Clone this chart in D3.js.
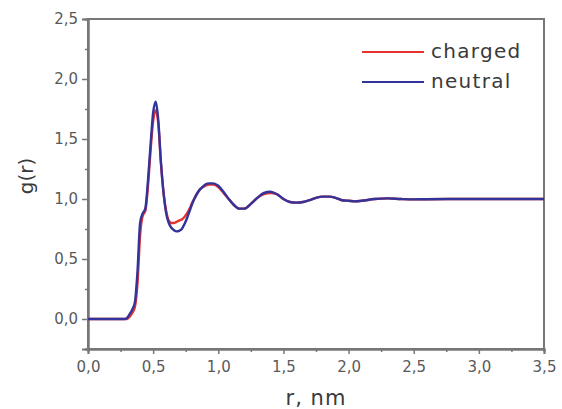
<!DOCTYPE html>
<html><head><meta charset="utf-8">
<script src="https://cdn.jsdelivr.net/npm/d3@7"></script>
<style>
html,body{margin:0;padding:0;background:#fff;}
svg text{font-family:"DejaVu Sans",Verdana,sans-serif;}
</style></head>
<body><svg id="c" width="562" height="409"></svg>
<script>
const rValues = [0,0.28,0.30,0.32,0.34,0.36,0.38,0.40,0.42,0.44,0.46,0.48,0.50,0.52,0.54,0.56,0.58,0.60,0.62,0.64,0.66,0.68,0.70,0.72,0.74,0.76,0.78,0.80,0.82,0.84,0.86,0.88,0.90,0.93,0.96,1.00,1.04,1.08,1.12,1.16,1.20,1.25,1.30,1.35,1.40,1.45,1.50,1.55,1.60,1.65,1.70,1.75,1.80,1.85,1.90,1.95,2.00,2.05,2.10,2.20,2.30,2.40,2.50,2.60,2.80,3.00,3.20,3.50];
const neutral = [0,0,0.01,0.04,0.08,0.14,0.40,0.80,0.88,0.92,1.15,1.45,1.72,1.81,1.65,1.30,1.05,0.88,0.80,0.76,0.74,0.73,0.735,0.75,0.79,0.84,0.90,0.96,1.01,1.05,1.08,1.10,1.12,1.13,1.13,1.11,1.06,1.00,0.95,0.92,0.92,0.96,1.01,1.05,1.06,1.04,1.00,0.975,0.97,0.975,0.99,1.01,1.02,1.02,1.01,0.99,0.985,0.98,0.985,1.00,1.005,1.00,0.997,0.998,1.0,1.0,1.0,1.0];
const charged = [0,0,0.0,0.02,0.05,0.10,0.30,0.70,0.86,0.90,1.10,1.40,1.65,1.74,1.62,1.30,1.05,0.90,0.82,0.80,0.80,0.81,0.82,0.83,0.85,0.88,0.92,0.97,1.01,1.05,1.08,1.10,1.11,1.12,1.12,1.10,1.05,1.00,0.95,0.92,0.92,0.96,1.01,1.04,1.05,1.04,1.00,0.975,0.97,0.975,0.99,1.01,1.02,1.02,1.01,0.99,0.985,0.98,0.985,1.00,1.005,1.00,0.997,0.998,1.0,1.0,1.0,1.0];
const xTicks = [0,0.5,1.0,1.5,2.0,2.5,3.0,3.5];
const yTicks = [0,0.5,1.0,1.5,2.0,2.5];
const seriesNames = ["charged","neutral"];
const seriesColors = ["#e8322e","#33339c"];

const svg = d3.select("#c");
const L=88,R=544,T=19,B=349;
const x = d3.scaleLinear().domain([0,3.5]).range([L,R]);
const y = d3.scaleLinear().domain([-0.25,2.5]).range([B,T]);
const fmt = d => d.toFixed(1).replace(".", ",");
const axisCol="#777", txtCol="#5a5a5a";

// frame
svg.append("rect").attr("x",L).attr("y",T).attr("width",R-L).attr("height",B-T)
  .attr("fill","none").attr("stroke",axisCol).attr("stroke-width",2);

const xa = svg.append("g").attr("transform",`translate(0,${B})`)
  .call(d3.axisBottom(x).tickValues(xTicks).tickFormat(fmt).tickSize(5).tickPadding(7));
const xm = svg.append("g").attr("transform",`translate(0,${B})`)
  .call(d3.axisBottom(x).tickValues(d3.range(0.25,3.5,0.5)).tickFormat("").tickSize(3));
const ya = svg.append("g").attr("transform",`translate(${L},0)`)
  .call(d3.axisLeft(y).tickValues(yTicks).tickFormat(fmt).tickSize(6).tickPadding(4));
const ym = svg.append("g").attr("transform",`translate(${L},0)`)
  .call(d3.axisLeft(y).tickValues([-0.25,0.25,0.75,1.25,1.75,2.25]).tickFormat("").tickSize(3));
[xa,xm,ya,ym].forEach(g=>{
  g.selectAll(".domain").attr("stroke",axisCol).attr("stroke-width",2);
  g.selectAll("line").attr("stroke",axisCol).attr("stroke-width",1.5);
  g.selectAll("text").attr("fill",txtCol).style("font-size","15px");
});

const line = d3.line().x(d=>x(d[0])).y(d=>y(d[1])).curve(d3.curveMonotoneX);
[charged,neutral].forEach((s,i)=>{
  svg.append("path").datum(rValues.map((r,j)=>[r,s[j]]))
    .attr("d",line).attr("fill","none").attr("stroke",seriesColors[i])
    .attr("stroke-width",2.4).attr("stroke-linejoin","round");
});

// legend
seriesNames.forEach((n,i)=>{
  const yy = 52 + i*30;
  svg.append("line").attr("x1",362).attr("x2",424).attr("y1",yy).attr("y2",yy)
    .attr("stroke",seriesColors[i]).attr("stroke-width",2);
  svg.append("text").attr("x",431).attr("y",yy+6).text(n)
    .attr("fill","#3a3a3a").style("font-size","20px").style("letter-spacing","1.3px");
});

svg.append("text").attr("x",316).attr("y",405).attr("text-anchor","middle")
  .attr("fill","#3a3a3a").style("font-size","21px").style("letter-spacing","1px").text("r, nm");
svg.append("text").attr("transform","translate(33,176) rotate(-90)").attr("text-anchor","middle")
  .attr("fill","#3a3a3a").style("font-size","20px").text("g(r)");
</script></body></html>
